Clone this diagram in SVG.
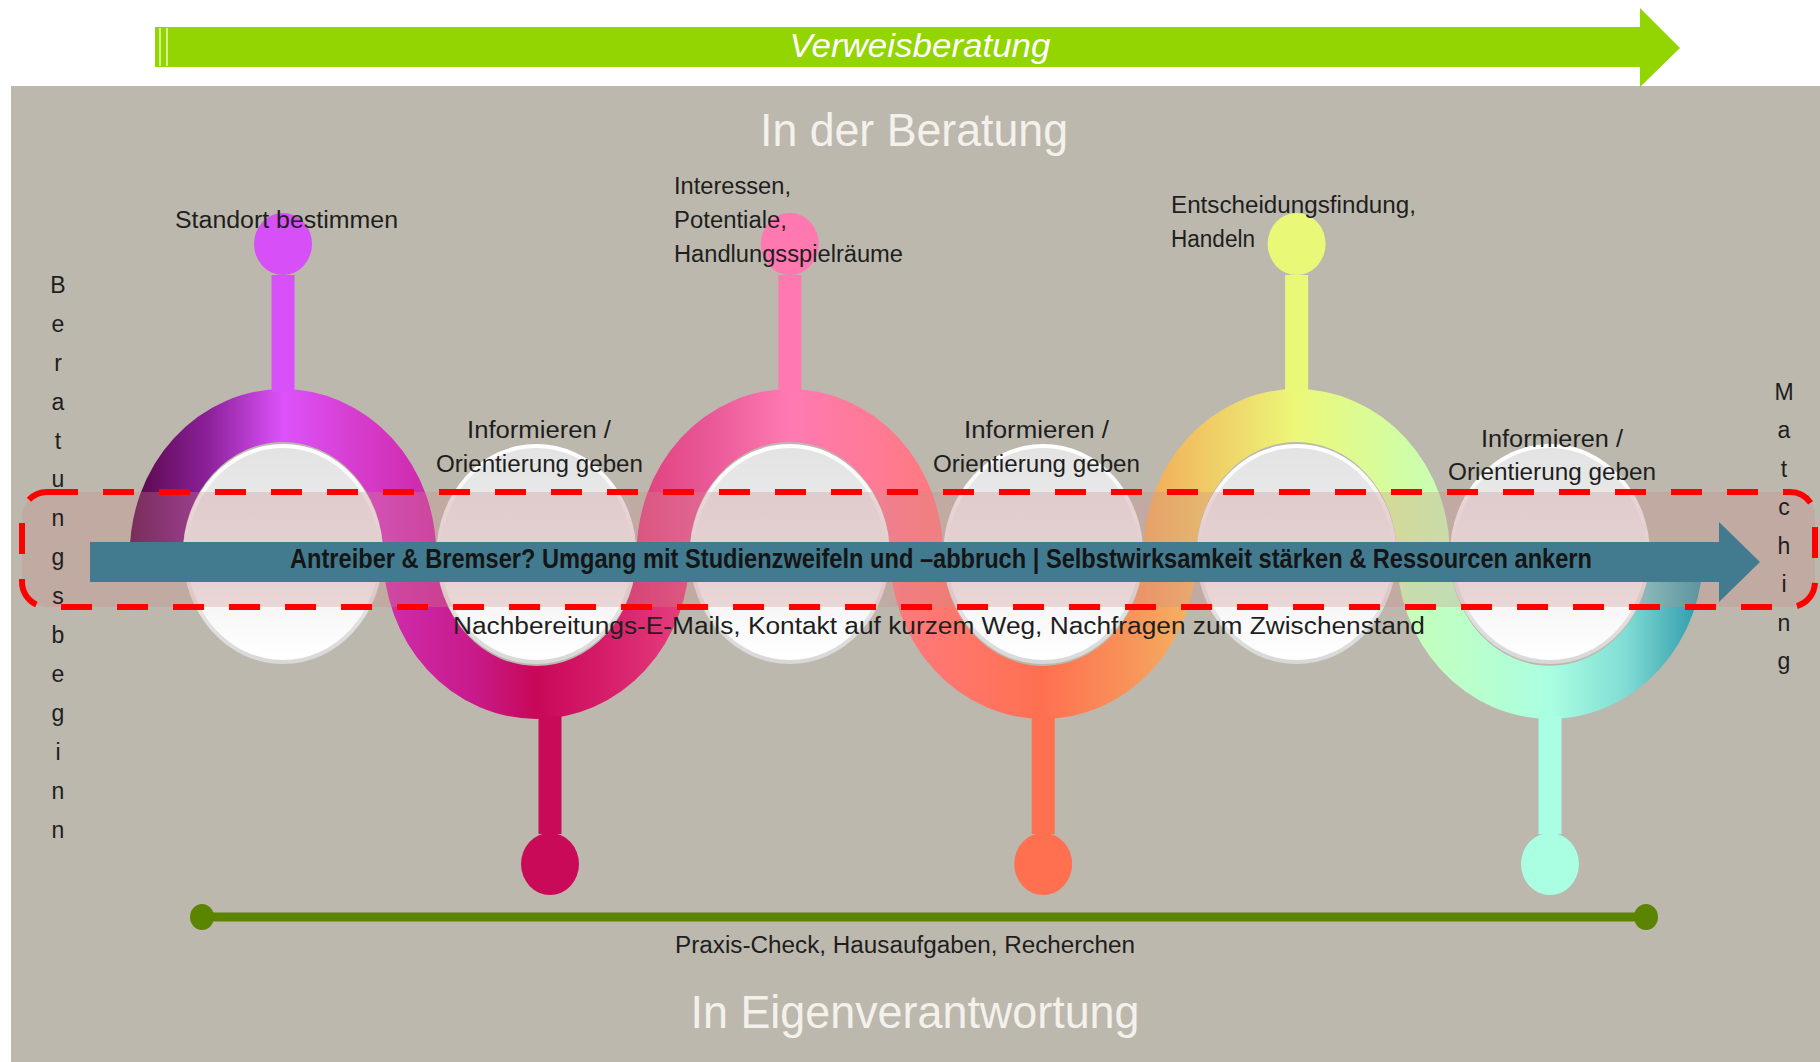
<svg xmlns="http://www.w3.org/2000/svg" width="1820" height="1062" viewBox="0 0 1820 1062">
<defs>
<style>
.lbl{font-family:"Liberation Sans","DejaVu Sans",sans-serif;font-size:23px;fill:#1e1e1e}
.vert{font-family:"Liberation Sans","DejaVu Sans",sans-serif;font-size:23px;fill:#1e1e1e;text-anchor:middle}
.big{font-family:"Liberation Sans","DejaVu Sans",sans-serif;font-size:46px;fill:#f4f1ec;text-anchor:middle}
.ring{fill:none;stroke-width:53}
</style>
<linearGradient id="g1" gradientUnits="userSpaceOnUse" x1="130" y1="0" x2="436" y2="0">
<stop offset="0" stop-color="#560646"/><stop offset="0.25" stop-color="#8a2098"/><stop offset="0.5" stop-color="#dc52fa"/><stop offset="0.75" stop-color="#d63ccc"/><stop offset="1" stop-color="#cc28a6"/>
</linearGradient>
<linearGradient id="g2" gradientUnits="userSpaceOnUse" x1="383" y1="0" x2="690" y2="0">
<stop offset="0" stop-color="#d02cae"/><stop offset="0.3" stop-color="#c81a8a"/><stop offset="0.5" stop-color="#c80858"/><stop offset="0.75" stop-color="#d8206c"/><stop offset="1" stop-color="#e4427e"/>
</linearGradient>
<linearGradient id="g3" gradientUnits="userSpaceOnUse" x1="637" y1="0" x2="943" y2="0">
<stop offset="0" stop-color="#e0407e"/><stop offset="0.25" stop-color="#ea5a98"/><stop offset="0.5" stop-color="#ff7ab2"/><stop offset="0.8" stop-color="#ff7a92"/><stop offset="1" stop-color="#ff7a7a"/>
</linearGradient>
<linearGradient id="g4" gradientUnits="userSpaceOnUse" x1="890" y1="0" x2="1196" y2="0">
<stop offset="0" stop-color="#ff7a80"/><stop offset="0.5" stop-color="#ff7050"/><stop offset="0.8" stop-color="#f8955a"/><stop offset="1" stop-color="#f4b662"/>
</linearGradient>
<linearGradient id="g5" gradientUnits="userSpaceOnUse" x1="1143" y1="0" x2="1450" y2="0">
<stop offset="0" stop-color="#f2aa58"/><stop offset="0.5" stop-color="#ecf878"/><stop offset="1" stop-color="#c6ffb8"/>
</linearGradient>
<linearGradient id="g6" gradientUnits="userSpaceOnUse" x1="1397" y1="0" x2="1703" y2="0">
<stop offset="0" stop-color="#c8ffb6"/><stop offset="0.5" stop-color="#aaffe2"/><stop offset="0.75" stop-color="#80dcd4"/><stop offset="1" stop-color="#2c96a8"/>
</linearGradient>
<linearGradient id="rim" x1="0" y1="0" x2="0" y2="1">
<stop offset="0" stop-color="#ffffff"/><stop offset="1" stop-color="#d8d8d8"/>
</linearGradient>
<linearGradient id="disc" x1="0" y1="0" x2="0" y2="1">
<stop offset="0" stop-color="#e3e3e3"/><stop offset="0.55" stop-color="#f0f0f0"/><stop offset="1" stop-color="#ffffff"/>
</linearGradient>
<g id="wd">
<ellipse cx="0" cy="0" rx="100" ry="110" fill="url(#rim)"/>
<ellipse cx="0" cy="0" rx="96" ry="106" fill="url(#disc)"/>
</g>
</defs>

<rect x="0" y="0" width="1820" height="1062" fill="#ffffff"/>
<rect x="11" y="86" width="1809" height="976" fill="#bcb8ad"/>

<g id="top-arrow">
<polygon points="155,27 1640,27 1640,8 1680,48 1640,87 1640,67 155,67" fill="#92d500"/>
<rect x="159" y="28" width="2" height="38" fill="#d4f08a"/>
<rect x="166" y="28" width="2" height="38" fill="#d4f08a"/>
<text x="920" y="57" font-family="Liberation Sans, DejaVu Sans, sans-serif" font-size="34" font-style="italic" fill="#ffffff" text-anchor="middle" textLength="261" lengthAdjust="spacingAndGlyphs">Verweisberatung</text>
</g>

<text class="big" x="914" y="146" textLength="308" lengthAdjust="spacingAndGlyphs">In der Beratung</text>
<text class="big" x="915" y="1028" font-size="47" textLength="449" lengthAdjust="spacingAndGlyphs">In Eigenverantwortung</text>

<g id="connectors">
<path class="ring" stroke="url(#g1)" d="M156.3,554 A126.7,138.5 0 0 1 409.7,554"/>
<path class="ring" stroke="url(#g2)" d="M409.7,554 A126.7,138.5 0 0 0 663.1,554"/>
<path class="ring" stroke="url(#g3)" d="M663.1,554 A126.7,138.5 0 0 1 916.5,554"/>
<path class="ring" stroke="url(#g4)" d="M916.5,554 A126.7,138.5 0 0 0 1169.9,554"/>
<path class="ring" stroke="url(#g5)" d="M1169.9,554 A126.7,138.5 0 0 1 1423.3,554"/>
<path class="ring" stroke="url(#g6)" d="M1423.3,554 A126.7,138.5 0 0 0 1676.7,554"/>
<rect x="271.5" y="275" width="23" height="117" fill="#d850f8"/>
<rect x="778.3" y="275" width="23" height="117" fill="#ff78b0"/>
<rect x="1285.1" y="275" width="23" height="117" fill="#eaf878"/>
<rect x="538.5" y="716" width="23" height="118" fill="#c80a58"/>
<rect x="1031.7" y="716" width="23" height="118" fill="#ff7050"/>
<rect x="1538.5" y="716" width="23" height="118" fill="#a8ffe4"/>
<g id="green-line">
<rect x="202" y="912.5" width="1444" height="9" fill="#5b8400"/>
<ellipse cx="202" cy="917" rx="12" ry="13" fill="#5b8400"/>
<ellipse cx="1646" cy="917" rx="12" ry="13" fill="#5b8400"/>
</g>
</g>

<g id="node-1">
<use href="#wd" x="283" y="554"/>
<ellipse cx="283" cy="244" rx="29" ry="31" fill="#d74ff6"/>
<text class="lbl" x="175" y="228" font-size="24" textLength="223" lengthAdjust="spacingAndGlyphs">Standort bestimmen</text>
</g>
<g id="node-2">
<use href="#wd" x="536.4" y="554"/>
<ellipse cx="550" cy="864" rx="29" ry="31" fill="#c80a58"/>
<text class="lbl" x="467" y="438" textLength="144" lengthAdjust="spacingAndGlyphs">Informieren /</text>
<text class="lbl" x="436" y="472" textLength="207" lengthAdjust="spacingAndGlyphs">Orientierung geben</text>
</g>
<g id="node-3">
<use href="#wd" x="789.8" y="554"/>
<ellipse cx="789.8" cy="244" rx="29" ry="31" fill="#ff78b0"/>
<text class="lbl" x="674" y="194" textLength="117" lengthAdjust="spacingAndGlyphs">Interessen,</text>
<text class="lbl" x="674" y="228" textLength="113" lengthAdjust="spacingAndGlyphs">Potentiale,</text>
<text class="lbl" x="674" y="262" textLength="229" lengthAdjust="spacingAndGlyphs">Handlungsspielräume</text>
</g>
<g id="node-4">
<use href="#wd" x="1043.2" y="554"/>
<ellipse cx="1043.2" cy="864" rx="29" ry="31" fill="#ff7050"/>
<text class="lbl" x="964" y="438" textLength="145" lengthAdjust="spacingAndGlyphs">Informieren /</text>
<text class="lbl" x="933" y="472" textLength="207" lengthAdjust="spacingAndGlyphs">Orientierung geben</text>
</g>
<g id="node-5">
<use href="#wd" x="1296.6" y="554"/>
<ellipse cx="1296.6" cy="244" rx="29" ry="31" fill="#eaf878"/>
<text class="lbl" x="1171" y="213" textLength="245" lengthAdjust="spacingAndGlyphs">Entscheidungsfindung,</text>
<text class="lbl" x="1171" y="247" textLength="84" lengthAdjust="spacingAndGlyphs">Handeln</text>
</g>
<g id="node-6">
<use href="#wd" x="1550" y="554"/>
<ellipse cx="1550" cy="864" rx="29" ry="31" fill="#aaffe2"/>
<text class="lbl" x="1481" y="447" textLength="142" lengthAdjust="spacingAndGlyphs">Informieren /</text>
<text class="lbl" x="1448" y="480" textLength="208" lengthAdjust="spacingAndGlyphs">Orientierung geben</text>
</g>

<g id="band">
<rect x="22" y="492" width="1793" height="115" rx="25" ry="25" fill="#cd8a8a" fill-opacity="0.3"/>
<polygon points="90,542 1719,542 1719,522 1760,562 1719,602 1719,582 90,582" fill="#427b8f"/>
<text x="290" y="568" font-family="Liberation Sans, DejaVu Sans, sans-serif" font-size="27" font-weight="bold" fill="#151515" textLength="1302" lengthAdjust="spacingAndGlyphs">Antreiber &amp; Bremser? Umgang mit Studienzweifeln und –abbruch | Selbstwirksamkeit stärken &amp; Ressourcen ankern</text>
<rect x="22" y="492" width="1793" height="115" rx="25" ry="25" fill="none" stroke="#ff0000" stroke-width="6" stroke-dasharray="31 25"/>
</g>

<text class="lbl" x="453" y="634" font-size="28" textLength="972" lengthAdjust="spacingAndGlyphs">Nachbereitungs-E-Mails, Kontakt auf kurzem Weg, Nachfragen zum Zwischenstand</text>
<text class="lbl" x="675" y="953" textLength="460" lengthAdjust="spacingAndGlyphs">Praxis-Check, Hausaufgaben, Recherchen</text>

<g id="beratungsbeginn">
<text class="vert" x="58" y="293">B</text>
<text class="vert" x="58" y="332">e</text>
<text class="vert" x="58" y="371">r</text>
<text class="vert" x="58" y="410">a</text>
<text class="vert" x="58" y="449">t</text>
<text class="vert" x="58" y="487">u</text>
<text class="vert" x="58" y="526">n</text>
<text class="vert" x="58" y="565">g</text>
<text class="vert" x="58" y="604">s</text>
<text class="vert" x="58" y="643">b</text>
<text class="vert" x="58" y="682">e</text>
<text class="vert" x="58" y="721">g</text>
<text class="vert" x="58" y="760">i</text>
<text class="vert" x="58" y="799">n</text>
<text class="vert" x="58" y="838">n</text>
</g>
<g id="matching">
<text class="vert" x="1784" y="400">M</text>
<text class="vert" x="1784" y="438">a</text>
<text class="vert" x="1784" y="477">t</text>
<text class="vert" x="1784" y="515">c</text>
<text class="vert" x="1784" y="554">h</text>
<text class="vert" x="1784" y="592">i</text>
<text class="vert" x="1784" y="631">n</text>
<text class="vert" x="1784" y="669">g</text>
</g>
</svg>
